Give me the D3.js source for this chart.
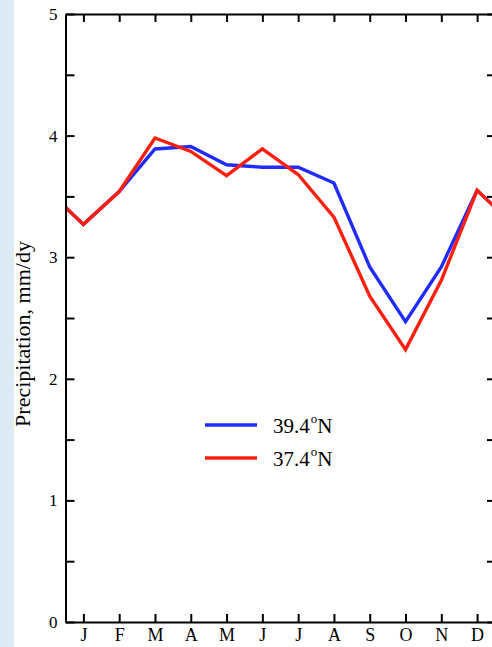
<!DOCTYPE html>
<html>
<head>
<meta charset="utf-8">
<script src="https://cdn.jsdelivr.net/npm/d3@7"></script>
<style>
  body { margin: 0; background: #fff; }
  svg { display: block; }
  .axis path, .axis line { stroke: #000; stroke-width: 2; }
  .axis text { font-family: "Liberation Serif", "Times New Roman", serif; fill: #000; }
</style>
</head>
<body>
<script>
// monthly precipitation at two latitudes
var months = ["J", "F", "M", "A", "M", "J", "J", "A", "S", "O", "N", "D"];
var lat394 = [3.27, 3.54, 3.89, 3.91, 3.76, 3.74, 3.74, 3.61, 2.92, 2.47, 2.92, 3.55];
var lat374 = [3.27, 3.54, 3.98, 3.87, 3.67, 3.89, 3.68, 3.33, 2.68, 2.24, 2.81, 3.55];
var yTicks = [0, 0.5, 1, 1.5, 2, 2.5, 3, 3.5, 4, 4.5, 5];
var seriesNames = ["39.4", "37.4"];

var width = 492,
    height = 647;

var svg = d3.select("body")
    .append("svg")
    .attr("width", width)
    .attr("height", height);

// light blue strip on the far left
svg.append("rect")
    .attr("x", 0).attr("y", 0)
    .attr("width", 14).attr("height", height)
    .attr("fill", "#deebf4");

var x = d3.scaleLinear().domain([0, 12]).range([65.5, 495]);
var y = d3.scaleLinear().domain([0, 5]).range([622, 14]);

svg.append("defs").append("clipPath")
    .attr("id", "plotclip")
    .append("rect")
    .attr("x", x(0)).attr("y", y(5))
    .attr("width", x(12) - x(0)).attr("height", y(0) - y(5));

// wrap the year round so the line runs to both edges
function wrapped(vals){
    var pts = [{m: -0.5, v: vals[11]}];
    vals.forEach(function(v, i){ pts.push({m: i + 0.5, v: v}); });
    pts.push({m: 12.5, v: vals[0]});
    return pts;
}

var line = d3.line()
    .x(function(d){ return x(d.m); })
    .y(function(d){ return y(d.v); });

var plot = svg.append("g").attr("clip-path", "url(#plotclip)");

plot.append("path")
    .datum(wrapped(lat394))
    .attr("fill", "none")
    .attr("stroke", "#1f2bff")
    .attr("stroke-width", 3.4)
    .attr("d", line);

plot.append("path")
    .datum(wrapped(lat374))
    .attr("fill", "none")
    .attr("stroke", "#ff1f0f")
    .attr("stroke-width", 3.4)
    .attr("d", line);

var monthPos = months.map(function(m, i){ return i + 0.5; });

//axes, all ticks pointing inwards
svg.append("g")
    .attr("class", "axis")
    .attr("transform", "translate(" + x(0) + ",0)")
    .call(d3.axisLeft(y)
        .tickValues(yTicks)
        .tickSizeInner(-9)
        .tickSizeOuter(0)
        .tickPadding(8)
        .tickFormat(function(d){ return d % 1 === 0 ? d : ""; }))
    .selectAll("text")
    .style("font-size", "17px");

svg.append("g")
    .attr("class", "axis")
    .attr("transform", "translate(" + x(12) + ",0)")
    .call(d3.axisRight(y)
        .tickValues(yTicks)
        .tickSizeInner(-8)
        .tickSizeOuter(0)
        .tickFormat(""));

svg.append("g")
    .attr("class", "axis")
    .attr("transform", "translate(0," + y(0) + ")")
    .call(d3.axisBottom(x)
        .tickValues(monthPos)
        .tickSizeInner(-8)
        .tickSizeOuter(0)
        .tickPadding(6)
        .tickFormat(function(d, i){ return months[i]; }))
    .selectAll("text")
    .style("font-size", "18px");

svg.append("g")
    .attr("class", "axis")
    .attr("transform", "translate(0," + y(5) + ")")
    .call(d3.axisTop(x)
        .tickValues(monthPos)
        .tickSizeInner(-8)
        .tickSizeOuter(0)
        .tickFormat(""));

// y title
svg.append("text")
    .attr("transform", "translate(30,334) rotate(-90)")
    .attr("text-anchor", "middle")
    .style("font-family", "'Liberation Serif', 'Times New Roman', serif")
    .style("font-size", "22px")
    .text("Precipitation, mm/dy");

// legend
var legendColors = ["#1f2bff", "#ff1f0f"];
var legend = svg.selectAll(".legend")
    .data(seriesNames)
    .enter()
    .append("g")
    .attr("class", "legend")
    .attr("transform", function(d, i){ return "translate(205," + (425 + i * 33) + ")"; });

legend.append("line")
    .attr("x1", 0).attr("x2", 52)
    .attr("stroke", function(d, i){ return legendColors[i]; })
    .attr("stroke-width", 3.4);

var lt = legend.append("text")
    .attr("x", 68)
    .attr("y", 8)
    .style("font-family", "'Liberation Serif', 'Times New Roman', serif")
    .style("font-size", "21px");
lt.append("tspan").text(function(d){ return d; });
lt.append("tspan").attr("dy", -10).attr("dx", 1).style("font-size", "13px").text("o");
lt.append("tspan").attr("dy", 10).text("N");
</script>
</body>
</html>
